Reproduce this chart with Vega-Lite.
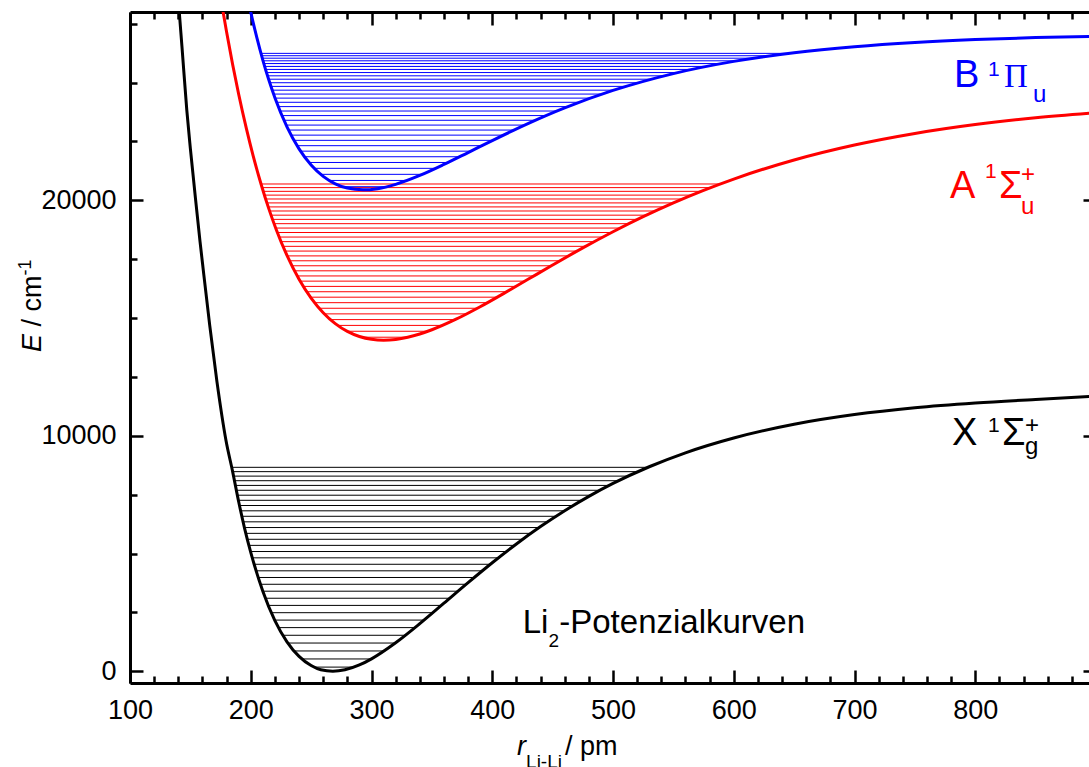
{
  "$schema": "https://vega.github.io/schema/vega-lite/v6.json",
  "width": 966,
  "height": 671,
  "autosize": "none",
  "padding": {"left": 130, "top": 12, "right": 0, "bottom": 84},
  "background": "white",
  "config": {
    "view": {"stroke": null},
    "axis": {"domainColor": "black", "domainWidth": 3, "tickColor": "black", "tickWidth": 2.5, "grid": false, "labelFont": "Liberation Sans", "labelFontSize": 27, "labelColor": "black", "labelOverlap": false, "labelFlush": false, "title": null},
    "text": {"font": "Liberation Sans"}
  },
  "datasets": {
    "curves": [
      {"state": "X", "r": 139.5, "E": 28900}, {"state": "X", "r": 140.8, "E": 28000}, {"state": "X", "r": 143, "E": 26550}, {"state": "X", "r": 147, "E": 23850}, {"state": "X", "r": 150, "E": 22200}, {"state": "X", "r": 155, "E": 19700}, {"state": "X", "r": 158, "E": 18250}, {"state": "X", "r": 160, "E": 17350}, {"state": "X", "r": 166, "E": 14700}, {"state": "X", "r": 172, "E": 12300}, {"state": "X", "r": 179.5, "E": 9800}, {"state": "X", "r": 185, "E": 8480}, {"state": "X", "r": 190, "E": 7200}, {"state": "X", "r": 195, "E": 6050}, {"state": "X", "r": 200, "E": 5050}, {"state": "X", "r": 210, "E": 3400}, {"state": "X", "r": 220, "E": 2150}, {"state": "X", "r": 230, "E": 1250}, {"state": "X", "r": 240, "E": 630}, {"state": "X", "r": 250, "E": 240}, {"state": "X", "r": 258, "E": 60}, {"state": "X", "r": 268, "E": 0}, {"state": "X", "r": 278, "E": 60}, {"state": "X", "r": 290, "E": 267}, {"state": "X", "r": 300, "E": 527}, {"state": "X", "r": 320, "E": 1209}, {"state": "X", "r": 340, "E": 2021}, {"state": "X", "r": 360, "E": 2890}, {"state": "X", "r": 380, "E": 3762}, {"state": "X", "r": 400, "E": 4607}, {"state": "X", "r": 420, "E": 5404}, {"state": "X", "r": 440, "E": 6143}, {"state": "X", "r": 460, "E": 6818}, {"state": "X", "r": 480, "E": 7428}, {"state": "X", "r": 500, "E": 7976}, {"state": "X", "r": 530, "E": 8685}, {"state": "X", "r": 560, "E": 9277}, {"state": "X", "r": 600, "E": 9906}, {"state": "X", "r": 650, "E": 10489}, {"state": "X", "r": 700, "E": 10900}, {"state": "X", "r": 750, "E": 11190}, {"state": "X", "r": 800, "E": 11392}, {"state": "X", "r": 850, "E": 11545}, {"state": "X", "r": 900, "E": 11680},
      {"state": "A", "r": 174, "E": 28953}, {"state": "A", "r": 176, "E": 28332}, {"state": "A", "r": 180, "E": 27146}, {"state": "A", "r": 185, "E": 25772}, {"state": "A", "r": 190, "E": 24508}, {"state": "A", "r": 196.5, "E": 23027}, {"state": "A", "r": 202, "E": 21893}, {"state": "A", "r": 209, "E": 20610}, {"state": "A", "r": 215, "E": 19638}, {"state": "A", "r": 221, "E": 18775}, {"state": "A", "r": 230, "E": 17661}, {"state": "A", "r": 240, "E": 16651}, {"state": "A", "r": 250, "E": 15849}, {"state": "A", "r": 260, "E": 15229}, {"state": "A", "r": 270, "E": 14764}, {"state": "A", "r": 280, "E": 14433}, {"state": "A", "r": 290, "E": 14216}, {"state": "A", "r": 300, "E": 14097}, {"state": "A", "r": 310, "E": 14060}, {"state": "A", "r": 320, "E": 14093}, {"state": "A", "r": 330, "E": 14184}, {"state": "A", "r": 340, "E": 14323}, {"state": "A", "r": 350, "E": 14503}, {"state": "A", "r": 370, "E": 14952}, {"state": "A", "r": 390, "E": 15483}, {"state": "A", "r": 410, "E": 16061}, {"state": "A", "r": 430, "E": 16657}, {"state": "A", "r": 450, "E": 17253}, {"state": "A", "r": 475, "E": 17980}, {"state": "A", "r": 500, "E": 18667}, {"state": "A", "r": 525, "E": 19306}, {"state": "A", "r": 550, "E": 19892}, {"state": "A", "r": 575, "E": 20426}, {"state": "A", "r": 600, "E": 20905}, {"state": "A", "r": 650, "E": 21715}, {"state": "A", "r": 700, "E": 22351}, {"state": "A", "r": 750, "E": 22843}, {"state": "A", "r": 800, "E": 23221}, {"state": "A", "r": 850, "E": 23509}, {"state": "A", "r": 900, "E": 23726},
      {"state": "B", "r": 196, "E": 28953}, {"state": "B", "r": 198, "E": 28462}, {"state": "B", "r": 200, "E": 27995}, {"state": "B", "r": 205, "E": 26918}, {"state": "B", "r": 210, "E": 25959}, {"state": "B", "r": 215, "E": 25109}, {"state": "B", "r": 220, "E": 24359}, {"state": "B", "r": 230, "E": 23123}, {"state": "B", "r": 240, "E": 22188}, {"state": "B", "r": 250, "E": 21501}, {"state": "B", "r": 260, "E": 21018}, {"state": "B", "r": 270, "E": 20702}, {"state": "B", "r": 280, "E": 20521}, {"state": "B", "r": 293, "E": 20445}, {"state": "B", "r": 305, "E": 20497}, {"state": "B", "r": 320, "E": 20679}, {"state": "B", "r": 340, "E": 21058}, {"state": "B", "r": 360, "E": 21525}, {"state": "B", "r": 380, "E": 22030}, {"state": "B", "r": 400, "E": 22540}, {"state": "B", "r": 430, "E": 23270}, {"state": "B", "r": 460, "E": 23927}, {"state": "B", "r": 500, "E": 24668}, {"state": "B", "r": 550, "E": 25384}, {"state": "B", "r": 600, "E": 25903}, {"state": "B", "r": 650, "E": 26271}, {"state": "B", "r": 700, "E": 26528}, {"state": "B", "r": 750, "E": 26707}, {"state": "B", "r": 800, "E": 26830}, {"state": "B", "r": 850, "E": 26914}, {"state": "B", "r": 900, "E": 26971}
    ],
    "levels": [
      {"state": "X", "E": 175, "r1": 252.5, "r2": 285.5}, {"state": "X", "E": 521, "r1": 242.3, "r2": 299.8}, {"state": "X", "E": 861, "r1": 235.7, "r2": 310.4}, {"state": "X", "E": 1197, "r1": 230.7, "r2": 319.7}, {"state": "X", "E": 1527, "r1": 226.6, "r2": 328.1}, {"state": "X", "E": 1852, "r1": 223.0, "r2": 336.0}, {"state": "X", "E": 2172, "r1": 219.8, "r2": 343.5}, {"state": "X", "E": 2486, "r1": 217.0, "r2": 350.8}, {"state": "X", "E": 2796, "r1": 214.5, "r2": 357.9}, {"state": "X", "E": 3100, "r1": 212.2, "r2": 364.8}, {"state": "X", "E": 3399, "r1": 210.0, "r2": 371.6}, {"state": "X", "E": 3693, "r1": 208.1, "r2": 378.4}, {"state": "X", "E": 3981, "r1": 206.2, "r2": 385.1}, {"state": "X", "E": 4265, "r1": 204.5, "r2": 391.8}, {"state": "X", "E": 4543, "r1": 202.9, "r2": 398.5}, {"state": "X", "E": 4816, "r1": 201.4, "r2": 405.1}, {"state": "X", "E": 5084, "r1": 199.9, "r2": 411.8}, {"state": "X", "E": 5346, "r1": 198.6, "r2": 418.5}, {"state": "X", "E": 5604, "r1": 197.3, "r2": 425.3}, {"state": "X", "E": 5856, "r1": 196.1, "r2": 432.0}, {"state": "X", "E": 6103, "r1": 194.9, "r2": 438.9}, {"state": "X", "E": 6345, "r1": 193.8, "r2": 445.8}, {"state": "X", "E": 6581, "r1": 192.7, "r2": 452.8}, {"state": "X", "E": 6813, "r1": 191.7, "r2": 459.9}, {"state": "X", "E": 7039, "r1": 190.8, "r2": 467.0}, {"state": "X", "E": 7260, "r1": 189.9, "r2": 474.3}, {"state": "X", "E": 7476, "r1": 189.0, "r2": 481.7}, {"state": "X", "E": 7686, "r1": 188.2, "r2": 489.2}, {"state": "X", "E": 7892, "r1": 187.4, "r2": 496.8}, {"state": "X", "E": 8092, "r1": 186.6, "r2": 504.6}, {"state": "X", "E": 8287, "r1": 185.9, "r2": 512.5}, {"state": "X", "E": 8477, "r1": 185.2, "r2": 520.6}, {"state": "X", "E": 8661, "r1": 184.5, "r2": 528.9},
      {"state": "A", "E": 14187, "r1": 291.8, "r2": 330.3}, {"state": "A", "E": 14440, "r1": 279.8, "r2": 346.7}, {"state": "A", "E": 14689, "r1": 272.0, "r2": 358.9}, {"state": "A", "E": 14935, "r1": 266.0, "r2": 369.3}, {"state": "A", "E": 15178, "r1": 261.0, "r2": 378.8}, {"state": "A", "E": 15417, "r1": 256.7, "r2": 387.6}, {"state": "A", "E": 15654, "r1": 252.9, "r2": 396.0}, {"state": "A", "E": 15887, "r1": 249.5, "r2": 404.1}, {"state": "A", "E": 16118, "r1": 246.4, "r2": 411.9}, {"state": "A", "E": 16345, "r1": 243.5, "r2": 419.6}, {"state": "A", "E": 16569, "r1": 240.9, "r2": 427.0}, {"state": "A", "E": 16789, "r1": 238.5, "r2": 434.4}, {"state": "A", "E": 17007, "r1": 236.2, "r2": 441.7}, {"state": "A", "E": 17221, "r1": 234.1, "r2": 448.9}, {"state": "A", "E": 17433, "r1": 232.1, "r2": 456.1}, {"state": "A", "E": 17641, "r1": 230.2, "r2": 463.2}, {"state": "A", "E": 17846, "r1": 228.4, "r2": 470.3}, {"state": "A", "E": 18047, "r1": 226.7, "r2": 477.4}, {"state": "A", "E": 18246, "r1": 225.1, "r2": 484.5}, {"state": "A", "E": 18441, "r1": 223.5, "r2": 491.6}, {"state": "A", "E": 18634, "r1": 222.1, "r2": 498.8}, {"state": "A", "E": 18823, "r1": 220.7, "r2": 505.9}, {"state": "A", "E": 19009, "r1": 219.3, "r2": 513.1}, {"state": "A", "E": 19192, "r1": 218.0, "r2": 520.4}, {"state": "A", "E": 19371, "r1": 216.8, "r2": 527.7}, {"state": "A", "E": 19548, "r1": 215.6, "r2": 535.0}, {"state": "A", "E": 19721, "r1": 214.5, "r2": 542.4}, {"state": "A", "E": 19891, "r1": 213.4, "r2": 549.9}, {"state": "A", "E": 20058, "r1": 212.3, "r2": 557.5}, {"state": "A", "E": 20222, "r1": 211.3, "r2": 565.2}, {"state": "A", "E": 20383, "r1": 210.4, "r2": 572.9}, {"state": "A", "E": 20541, "r1": 209.4, "r2": 580.8}, {"state": "A", "E": 20695, "r1": 208.5, "r2": 588.7},
      {"state": "B", "E": 20580, "r1": 275.9, "r2": 313.0}, {"state": "B", "E": 20845, "r1": 264.9, "r2": 329.6}, {"state": "B", "E": 21105, "r1": 257.9, "r2": 342.2}, {"state": "B", "E": 21360, "r1": 252.6, "r2": 353.2}, {"state": "B", "E": 21609, "r1": 248.2, "r2": 363.4}, {"state": "B", "E": 21852, "r1": 244.5, "r2": 373.0}, {"state": "B", "E": 22090, "r1": 241.2, "r2": 382.3}, {"state": "B", "E": 22322, "r1": 238.4, "r2": 391.4}, {"state": "B", "E": 22549, "r1": 235.8, "r2": 400.4}, {"state": "B", "E": 22770, "r1": 233.4, "r2": 409.2}, {"state": "B", "E": 22986, "r1": 231.3, "r2": 418.0}, {"state": "B", "E": 23197, "r1": 229.3, "r2": 426.9}, {"state": "B", "E": 23401, "r1": 227.5, "r2": 435.7}, {"state": "B", "E": 23600, "r1": 225.8, "r2": 444.6}, {"state": "B", "E": 23794, "r1": 224.2, "r2": 453.6}, {"state": "B", "E": 23982, "r1": 222.8, "r2": 462.7}, {"state": "B", "E": 24165, "r1": 221.4, "r2": 472.0}, {"state": "B", "E": 24342, "r1": 220.1, "r2": 481.4}, {"state": "B", "E": 24514, "r1": 218.9, "r2": 491.0}, {"state": "B", "E": 24680, "r1": 217.8, "r2": 500.7}, {"state": "B", "E": 24841, "r1": 216.7, "r2": 510.8}, {"state": "B", "E": 24996, "r1": 215.7, "r2": 521.0}, {"state": "B", "E": 25145, "r1": 214.8, "r2": 531.6}, {"state": "B", "E": 25289, "r1": 213.9, "r2": 542.4}, {"state": "B", "E": 25428, "r1": 213.1, "r2": 553.7}, {"state": "B", "E": 25561, "r1": 212.3, "r2": 565.2}, {"state": "B", "E": 25688, "r1": 211.5, "r2": 577.3}, {"state": "B", "E": 25810, "r1": 210.8, "r2": 589.8}, {"state": "B", "E": 25927, "r1": 210.2, "r2": 602.7}, {"state": "B", "E": 26038, "r1": 209.6, "r2": 616.3}, {"state": "B", "E": 26143, "r1": 209.0, "r2": 630.5}, {"state": "B", "E": 26243, "r1": 208.5, "r2": 645.5}
    ],
    "letters": [
      {"state": "B", "text": "B", "r": 782.4, "E": 24802},
      {"state": "A", "text": "A", "r": 779.1, "E": 20079},
      {"state": "A", "text": "Σ", "r": 819.7, "E": 20079},
      {"state": "X", "text": "X", "r": 780.7, "E": 9588},
      {"state": "X", "text": "Σ", "r": 822.1, "E": 9588}
    ],
    "pi": [{"state": "B", "text": "Π", "r": 823.8, "E": 24802}],
    "ones": [
      {"state": "B", "text": "1", "r": 810.6, "E": 25282},
      {"state": "A", "text": "1", "r": 808.1, "E": 20949},
      {"state": "X", "text": "1", "r": 810.6, "E": 10174}
    ],
    "scripts": [
      {"state": "B", "text": "u", "r": 847.8, "E": 24190},
      {"state": "A", "text": "+", "r": 837.9, "E": 20763},
      {"state": "A", "text": "u", "r": 837.9, "E": 19420},
      {"state": "X", "text": "+", "r": 841.2, "E": 10102},
      {"state": "X", "text": "g", "r": 841.2, "E": 9227}
    ],
    "bigtext": [
      {"text": "Li", "r": 425.2, "E": 1611},
      {"text": "-Potenzialkurven", "r": 455.5, "E": 1611}
    ],
    "subtext": [
      {"text": "2", "r": 446.6, "E": 1042},
      {"text": "Li-Li", "r": 428.0, "E": -4110}
    ],
    "xunit": [{"text": "/ pm", "r": 460.2, "E": -3558}],
    "xvar": [{"text": "r", "r": 420.5, "E": -3558}],
    "yvar": [{"text": "E", "r": 26.3, "E": 13559}],
    "yunit": [{"text": "/ cm", "r": 26.3, "E": 14642}],
    "ysup": [{"text": "-1", "r": 18.0, "E": 16808}]
  },
  "layer": [
    {
      "data": {"name": "levels"},
      "mark": {"type": "rule", "strokeWidth": 1},
      "encoding": {
        "x": {"field": "r1", "type": "quantitative", "scale": {"domain": [100, 900], "nice": false, "zero": false},
          "axis": {"orient": "bottom", "values": [100,120,140,160,180,200,220,240,260,280,300,320,340,360,380,400,420,440,460,480,500,520,540,560,580,600,620,640,660,680,700,720,740,760,780,800,820,840,860,880,900],
            "labelExpr": "datum.value % 100 === 0 && datum.value < 900 ? format(datum.value, 'd') : ''",
            "tickSize": {"condition": {"test": "datum.value % 100 === 0", "value": -13}, "value": -7},
            "labelPadding": 27}},
        "x2": {"field": "r2"},
        "y": {"field": "E", "type": "quantitative", "scale": {"domain": [-500, 28000], "nice": false, "zero": false},
          "axis": {"orient": "left", "values": [0,2500,5000,7500,10000,12500,15000,17500,20000,22500,25000,27500],
            "labelExpr": "datum.value % 10000 === 0 ? format(datum.value, 'd') : ''",
            "tickSize": {"condition": {"test": "datum.value % 10000 === 0", "value": -13}, "value": -7},
            "labelPadding": 27}},
        "color": {"field": "state", "type": "nominal", "scale": {"domain": ["X", "A", "B"], "range": ["#000000", "#ff0000", "#0000ff"]}, "legend": null}
      }
    },
    {
      "data": {"name": "curves"},
      "mark": {"type": "line", "strokeWidth": 3, "clip": true, "interpolate": "monotone"},
      "encoding": {
        "x": {"field": "r", "type": "quantitative", "scale": {"domain": [100, 900], "nice": false, "zero": false},
          "axis": {"orient": "top", "labels": false, "values": [100,120,140,160,180,200,220,240,260,280,300,320,340,360,380,400,420,440,460,480,500,520,540,560,580,600,620,640,660,680,700,720,740,760,780,800,820,840,860,880,900],
            "tickSize": {"condition": {"test": "datum.value % 100 === 0", "value": -13}, "value": -7}}},
        "y": {"field": "E", "type": "quantitative", "scale": {"domain": [-500, 28000], "nice": false, "zero": false},
          "axis": {"orient": "right", "labels": false, "values": [0,2500,5000,7500,10000,12500,15000,17500,20000,22500,25000,27500],
            "tickSize": {"condition": {"test": "datum.value % 10000 === 0", "value": -13}, "value": -7}}},
        "color": {"field": "state", "type": "nominal", "scale": {"domain": ["X", "A", "B"], "range": ["#000000", "#ff0000", "#0000ff"]}, "legend": null},
        "detail": {"field": "state"}
      }
    },
    {
      "data": {"name": "letters"},
      "mark": {"type": "text", "fontSize": 38, "align": "left", "baseline": "alphabetic", "font": "Liberation Sans"},
      "encoding": {
        "x": {"field": "r", "type": "quantitative", "axis": null},
        "y": {"field": "E", "type": "quantitative", "axis": null},
        "text": {"field": "text"},
        "color": {"field": "state", "type": "nominal", "legend": null}
      }
    },
    {
      "data": {"name": "pi"},
      "mark": {"type": "text", "fontSize": 33, "align": "left", "baseline": "alphabetic", "font": "Liberation Serif"},
      "encoding": {
        "x": {"field": "r", "type": "quantitative", "axis": null},
        "y": {"field": "E", "type": "quantitative", "axis": null},
        "text": {"field": "text"},
        "color": {"field": "state", "type": "nominal", "legend": null}
      }
    },
    {
      "data": {"name": "ones"},
      "mark": {"type": "text", "fontSize": 21, "align": "left", "baseline": "alphabetic", "font": "Liberation Sans"},
      "encoding": {
        "x": {"field": "r", "type": "quantitative", "axis": null},
        "y": {"field": "E", "type": "quantitative", "axis": null},
        "text": {"field": "text"},
        "color": {"field": "state", "type": "nominal", "legend": null}
      }
    },
    {
      "data": {"name": "scripts"},
      "mark": {"type": "text", "fontSize": 24, "align": "left", "baseline": "alphabetic", "font": "Liberation Sans"},
      "encoding": {
        "x": {"field": "r", "type": "quantitative", "axis": null},
        "y": {"field": "E", "type": "quantitative", "axis": null},
        "text": {"field": "text"},
        "color": {"field": "state", "type": "nominal", "legend": null}
      }
    },
    {
      "data": {"name": "bigtext"},
      "mark": {"type": "text", "fontSize": 33, "align": "left", "baseline": "alphabetic", "color": "black"},
      "encoding": {
        "x": {"field": "r", "type": "quantitative", "axis": null},
        "y": {"field": "E", "type": "quantitative", "axis": null},
        "text": {"field": "text"}
      }
    },
    {
      "data": {"name": "subtext"},
      "mark": {"type": "text", "fontSize": 19, "align": "left", "baseline": "alphabetic", "color": "black"},
      "encoding": {
        "x": {"field": "r", "type": "quantitative", "axis": null},
        "y": {"field": "E", "type": "quantitative", "axis": null},
        "text": {"field": "text"}
      }
    },
    {
      "data": {"name": "xunit"},
      "mark": {"type": "text", "fontSize": 27, "align": "left", "baseline": "alphabetic", "color": "black"},
      "encoding": {
        "x": {"field": "r", "type": "quantitative", "axis": null},
        "y": {"field": "E", "type": "quantitative", "axis": null},
        "text": {"field": "text"}
      }
    },
    {
      "data": {"name": "xvar"},
      "mark": {"type": "text", "fontSize": 27, "fontStyle": "italic", "align": "left", "baseline": "alphabetic", "color": "black"},
      "encoding": {
        "x": {"field": "r", "type": "quantitative", "axis": null},
        "y": {"field": "E", "type": "quantitative", "axis": null},
        "text": {"field": "text"}
      }
    },
    {
      "data": {"name": "yvar"},
      "mark": {"type": "text", "fontSize": 27, "fontStyle": "italic", "angle": 270, "align": "left", "baseline": "alphabetic", "color": "black"},
      "encoding": {
        "x": {"field": "r", "type": "quantitative", "axis": null},
        "y": {"field": "E", "type": "quantitative", "axis": null},
        "text": {"field": "text"}
      }
    },
    {
      "data": {"name": "yunit"},
      "mark": {"type": "text", "fontSize": 27, "angle": 270, "align": "left", "baseline": "alphabetic", "color": "black"},
      "encoding": {
        "x": {"field": "r", "type": "quantitative", "axis": null},
        "y": {"field": "E", "type": "quantitative", "axis": null},
        "text": {"field": "text"}
      }
    },
    {
      "data": {"name": "ysup"},
      "mark": {"type": "text", "fontSize": 18, "angle": 270, "align": "left", "baseline": "alphabetic", "color": "black"},
      "encoding": {
        "x": {"field": "r", "type": "quantitative", "axis": null},
        "y": {"field": "E", "type": "quantitative", "axis": null},
        "text": {"field": "text"}
      }
    }
  ],
  "resolve": {"axis": {"x": "independent", "y": "independent"}}
}
